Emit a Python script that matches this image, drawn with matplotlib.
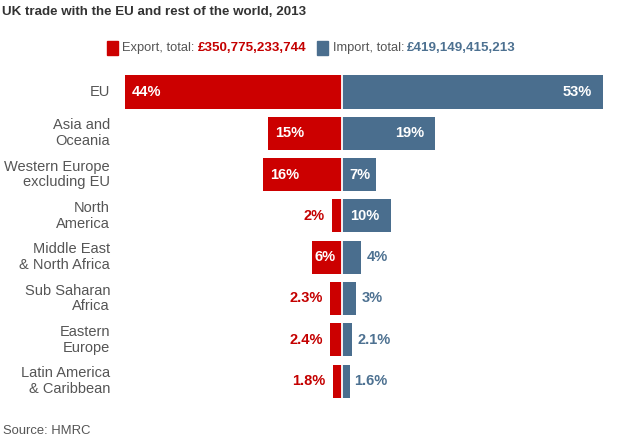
import matplotlib
matplotlib.use("Agg")
import matplotlib.pyplot as plt

plt.rcParams["font.family"] = ["Liberation Sans", "DejaVu Sans"]

# ---------------- data ----------------
regions = ["EU", "Asia and\nOceania", "Western Europe\nexcluding EU", "North\nAmerica",
           "Middle East\n& North Africa", "Sub Saharan\nAfrica", "Eastern\nEurope",
           "Latin America\n& Caribbean"]
export_pct = [44, 15, 16, 2, 6, 2.3, 2.4, 1.8]
import_pct = [53, 19, 7, 10, 4, 3, 2.1, 1.6]
export_lbl = ["44%", "15%", "16%", "2%", "6%", "2.3%", "2.4%", "1.8%"]
import_lbl = ["53%", "19%", "7%", "10%", "4%", "3%", "2.1%", "1.6%"]
export_total = "£350,775,233,744"
import_total = "£419,149,415,213"

# label placement: in = inside bar (left), in_c = inside centred, out = outside
export_pos = ["in", "in", "in", "out", "in_c", "out", "out", "out"]
import_pos = ["in_r", "in_r", "in_l", "in_l", "out", "out", "out", "out"]

RED, BLUE = "#CC0000", "#4A6E8E"
RED_T, BLUE_T = "#C40000", "#4D7191"
INK, GREY = "#333333", "#555555"

W, H = 625, 441
PX = 4.93          # pixels per percent
CX = 341.7         # pixel x of the centre line
Y0, DY = 92, 41.3  # first row centre, row spacing (pixels)

fig = plt.figure(figsize=(W / 100, H / 100), dpi=100)
fig.patch.set_facecolor("white")
ax = fig.add_axes([0, 0, 1, 1])
ax.set_xlim(-CX / PX, (W - CX) / PX)
ax.set_ylim((H - Y0) / DY, -Y0 / DY)
ax.axis("off")

rows = list(range(len(regions)))
ax.barh(rows, [-v for v in export_pct], height=0.8, color=RED, zorder=2)
ax.barh(rows, import_pct, height=0.8, color=BLUE, zorder=2)
ax.axvline(0, color="white", lw=1.3, zorder=3)

p = lambda px: px / PX
lab_kw = dict(fontsize=10.5, fontweight="bold", va="center", zorder=4)
for i in rows:
    e, m = export_pct[i], import_pct[i]
    if export_pos[i] == "in":
        ax.text(-e + p(7), i, export_lbl[i], color="white", ha="left", **lab_kw)
    elif export_pos[i] == "in_c":
        ax.text(-e / 2 - p(2), i, export_lbl[i], color="white", ha="center", **lab_kw)
    else:
        ax.text(-e - p(7), i, export_lbl[i], color=RED_T, ha="right", **lab_kw)
    if import_pos[i] == "in_r":
        ax.text(m - p(11), i, import_lbl[i], color="white", ha="right", **lab_kw)
    elif import_pos[i] == "in_l":
        ax.text(p(8), i, import_lbl[i], color="white", ha="left", **lab_kw)
    else:
        ax.text(m + p(5), i, import_lbl[i], color=BLUE_T, ha="left", **lab_kw)
    ax.text(-(CX - 110) / PX, i, regions[i], color=GREY, ha="right", va="center",
            fontsize=10.5, linespacing=1.15)

# ---------------- title, legend, source ----------------
fx = lambda px: px / W
fy = lambda py: 1 - py / H
fig.text(fx(2), fy(12), "UK trade with the EU and rest of the world, 2013",
         fontsize=9.6, fontweight="bold", color=INK, ha="left", va="center")

fig.patches.append(plt.Rectangle((fx(107), fy(55)), 11 / W, 14 / H, color=RED,
                                 transform=fig.transFigure, figure=fig))
fig.text(fx(122), fy(48), "Export, total:", fontsize=9.3, color=GREY, va="center")
fig.text(fx(198), fy(48), export_total, fontsize=9.6, fontweight="bold", color=RED_T, va="center")
fig.patches.append(plt.Rectangle((fx(317), fy(55)), 11 / W, 14 / H, color=BLUE,
                                 transform=fig.transFigure, figure=fig))
fig.text(fx(333), fy(48), "Import, total:", fontsize=9.3, color=GREY, va="center")
fig.text(fx(407), fy(48), import_total, fontsize=9.6, fontweight="bold", color=BLUE_T, va="center")

fig.text(fx(3), fy(431), "Source: HMRC", fontsize=9.4, color=GREY, ha="left", va="center")

fig.savefig("out.png", dpi=100, facecolor="white")
